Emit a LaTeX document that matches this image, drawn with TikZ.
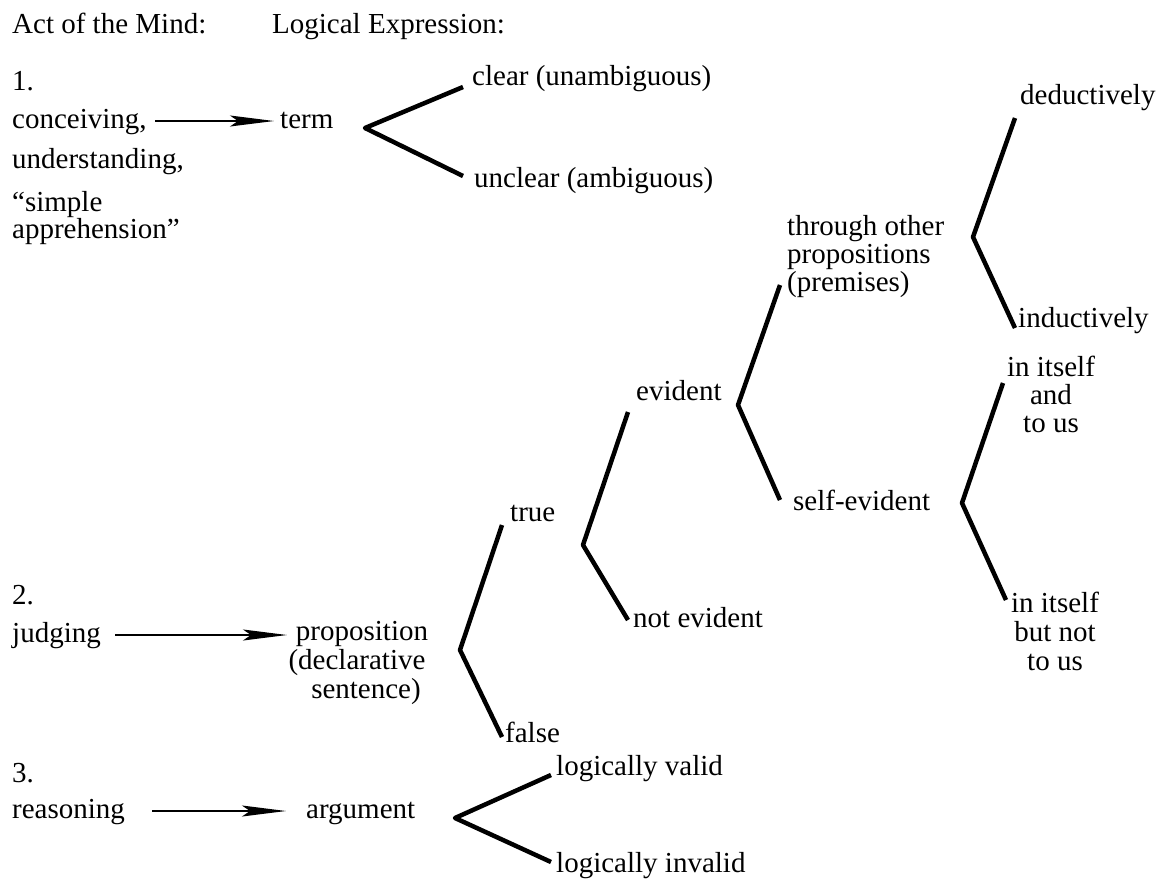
\documentclass[tikz,border=0pt]{standalone}
\usepackage{fontspec}
\setmainfont{Liberation Serif}
\usetikzlibrary{arrows.meta}
\begin{document}
\begin{tikzpicture}[x=1pt,y=-1pt,
  lbl/.style={inner sep=0pt, anchor=base west, font=\fontsize{29}{29}\selectfont},
  clbl/.style={inner sep=0pt, anchor=base, font=\fontsize{29}{29}\selectfont},
  branch/.style={line width=4.5pt, line join=round},
  arr/.style={line width=1.8pt, -{Stealth[length=44pt,width=11pt,inset=8pt]}}]
\useasboundingbox (0,0) rectangle (1170,884);
\fill[white] (0,0) rectangle (1170,884);

% headers
\node[lbl] (act) at (12,33) {Act of the Mind:};
\node[lbl] (logexp) at (272,33) {Logical Expression:};

% 1. conceiving
\node[lbl] (n1) at (12,90) {1.};
\node[lbl] (conc) at (12,128) {conceiving,};
\node[lbl] (unde) at (12,168) {understanding,};
\node[lbl] (simp) at (12,211) {“simple};
\node[lbl] (appr) at (12,238) {apprehension”};
\node[lbl] (term) at (280,128) {term};
\coordinate (a1s) at (155,121);
\coordinate (a1e) at (274,121);
\draw[arr] (a1s) -- (a1e);
\node[lbl] (clear) at (472,85) {clear (unambiguous)};
\node[lbl] (unclear) at (474,187) {unclear (ambiguous)};
\coordinate (v1) at (365,128);
\coordinate (v1u) at (463,87);
\coordinate (v1l) at (463,176);
\draw[branch] (v1u) -- (v1) -- (v1l);

% 2. judging
\node[lbl] (n2) at (12,604) {2.};
\node[lbl] (judg) at (12,642) {judging};
\coordinate (a2s) at (115,635);
\coordinate (a2e) at (287,635);
\draw[arr] (a2s) -- (a2e);
\node[clbl] (prop) at (362,640) {proposition};
\node[clbl] (decl) at (357,669) {(declarative};
\node[clbl] (sent) at (366,698) {sentence)};
\coordinate (vp) at (460,650);
\coordinate (vpu) at (502,525);
\coordinate (vpl) at (502,737);
\draw[branch] (vpu) -- (vp) -- (vpl);
\node[lbl] (true) at (510,521) {true};
\node[lbl] (false) at (505,742) {false};

% true -> evident / not evident
\coordinate (vt) at (583,545);
\coordinate (vtu) at (628,412);
\coordinate (vtl) at (628,620);
\draw[branch] (vtu) -- (vt) -- (vtl);
\node[lbl] (evid) at (636,400) {evident};
\node[lbl] (notev) at (633,627) {not evident};

% evident -> through other / self-evident
\coordinate (ve) at (738,405);
\coordinate (veu) at (780,285);
\coordinate (vel) at (780,500);
\draw[branch] (veu) -- (ve) -- (vel);
\node[lbl] (thr1) at (787,235) {through other};
\node[lbl] (thr2) at (787,263) {propositions};
\node[lbl] (thr3) at (787,291) {(premises)};
\node[lbl] (selfev) at (793,510) {self-evident};

% through other -> deductively / inductively
\coordinate (vo) at (973,237);
\coordinate (vou) at (1015,118);
\coordinate (vol) at (1015,328);
\draw[branch] (vou) -- (vo) -- (vol);
\node[lbl] (ded) at (1020,104) {deductively};
\node[lbl] (ind) at (1018,327) {inductively};

% self-evident -> in itself and to us / in itself but not to us
\coordinate (vs) at (962,503);
\coordinate (vsu) at (1003,383);
\coordinate (vsl) at (1006,600);
\draw[branch] (vsu) -- (vs) -- (vsl);
\node[clbl] (ia1) at (1051,376) {in itself};
\node[clbl] (ia2) at (1051,404) {and};
\node[clbl] (ia3) at (1051,432) {to us};
\node[clbl] (ib1) at (1055,612) {in itself};
\node[clbl] (ib2) at (1055,641) {but not};
\node[clbl] (ib3) at (1055,670) {to us};

% 3. reasoning
\node[lbl] (n3) at (12,782) {3.};
\node[lbl] (reas) at (12,818) {reasoning};
\coordinate (a3s) at (152,811);
\coordinate (a3e) at (286,811);
\draw[arr] (a3s) -- (a3e);
\node[lbl] (argu) at (306,818) {argument};
\coordinate (va) at (455,818);
\coordinate (vau) at (551,775);
\coordinate (val) at (551,862);
\draw[branch] (vau) -- (va) -- (val);
\node[lbl] (valid) at (556,775) {logically valid};
\node[lbl] (invalid) at (556,872) {logically invalid};
\end{tikzpicture}
\end{document}
